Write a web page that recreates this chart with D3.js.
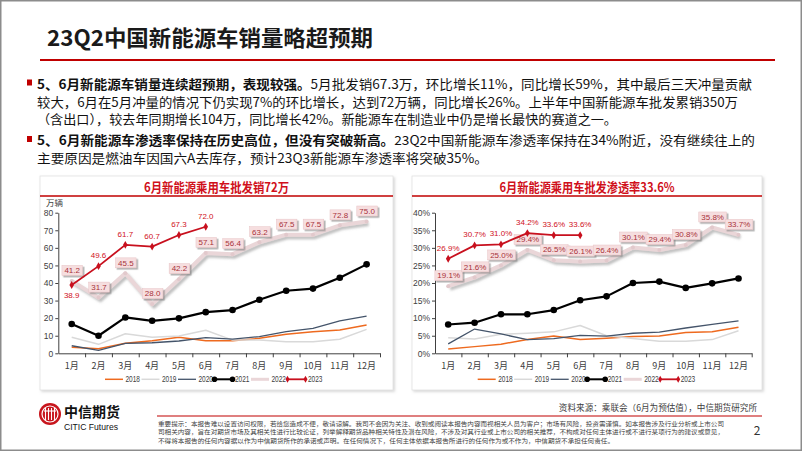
<!DOCTYPE html>
<html><head><meta charset="utf-8">
<script src="https://cdn.jsdelivr.net/npm/d3@7"></script>
<style>html,body{margin:0;padding:0;background:#fff;} svg{display:block;}</style>
</head><body><svg id="c" width="802" height="451"></svg>
<script>
// ---------- data ----------
const months = ['1月','2月','3月','4月','5月','6月','7月','8月','9月','10月','11月','12月'];
const years = ['2018','2019','2020','2021','2022','2023'];

// 新能源乘用车批发销量（万辆）
const sales2018 = [3.4, 2.6, 5.7, 7.2, 9.1, 7.2, 7.2, 8.5, 10.8, 12.3, 13.2, 16.1];
const sales2019 = [9.1, 5.1, 11.1, 9.1, 9.9, 13.1, 7.5, 7.5, 6.6, 6.6, 8.0, 13.6];
const sales2020 = [4.3, 1.7, 5.7, 6.0, 7.0, 8.9, 8.1, 9.5, 12.3, 14.2, 18.4, 21.2];
const sales2021 = [16.7, 10.0, 20.4, 18.5, 19.9, 23.4, 24.6, 30.5, 35.6, 36.8, 43.0, 50.6];
const sales2022 = [41.2, 31.7, 45.5, 28.0, 42.2, 57.1, 56.4, 63.2, 67.5, 67.5, 72.8, 75.0];
const sales2023 = [38.9, 49.6, 61.7, 60.7, 67.3, 72.0];
const salesTicks = [0, 10, 20, 30, 40, 50, 60, 70, 80];

// 新能源乘用车批发渗透率（%）
const pen2018 = [1.2, 1.9, 2.6, 3.9, 4.9, 3.9, 4.3, 4.8, 4.9, 5.9, 6.1, 7.4];
const pen2019 = [4.4, 4.1, 5.4, 5.7, 6.1, 7.9, 5.0, 4.2, 3.4, 3.4, 3.9, 6.4];
const pen2020 = [2.7, 6.9, 5.5, 3.9, 4.2, 5.1, 4.9, 5.7, 6.0, 7.2, 8.2, 9.2];
const pen2021 = [8.2, 8.7, 11.1, 11.1, 12.3, 15.1, 16.2, 20.0, 20.4, 18.6, 19.9, 21.3];
const pen2022 = [19.1, 21.6, 25.0, 29.4, 26.5, 26.1, 26.4, 30.1, 29.4, 30.8, 35.8, 33.7];
const pen2023 = [26.9, 30.7, 31.0, 34.2, 33.6, 33.6];
const penTicks = [0, 5, 10, 15, 20, 25, 30, 35, 40];

const pageTitle = '23Q2中国新能源车销量略超预期';
const chartTitleL = '6月新能源乘用车批发销72万';
const chartTitleR = '6月新能源乘用车批发渗透率33.6%';
const unitL = '万辆';
const bullets = [
  [['5、6月新能源车销量连续超预期，表现较强。', true], ['5月批发销67.3万，环比增长11%，同比增长59%，其中最后三天冲量贡献', false]],
  [['较大，6月在5月冲量的情况下仍实现7%的环比增长，达到72万辆，同比增长26%。上半年中国新能源车批发累销350万', false]],
  [['（含出口），较去年同期增长104万，同比增长42%。新能源车在制造业中仍是增长最快的赛道之一。', false]],
  [['5、6月新能源车渗透率保持在历史高位，但没有突破新高。', true], ['23Q2中国新能源车渗透率保持在34%附近，没有继续往上的', false]],
  [['主要原因是燃油车因国六A去库存，预计23Q3新能源车渗透率将突破35%。', false]]
];
const sourceText = '资料来源：乘联会（6月为预估值），中信期货研究所';
const disclaimer = [
  '重要提示：本报告难以设置访问权限，若给您造成不便，敬请谅解。我司不会因为关注、收到或阅读本报告内容而视相关人员为客户；市场有风险，投资需谨慎。如本报告涉及行业分析或上市公司',
  '司相关内容，旨在对期货市场及其相关性进行比较论证，列举解释期货品种相关特性及潜在风险，不涉及对其行业或上市公司的相关推荐，不构成对任何主体进行或不进行某项行为的建议或意见，',
  '不得将本报告的任何内容据以作为中信期货所作的承诺或声明。在任何情况下，任何主体依据本报告所进行的任何作为或不作为，中信期货不承担任何责任。'
];

// ---------- drawing ----------
const CJK = '"Noto Sans CJK SC", "Noto Sans", sans-serif';
const NUM = '"Liberation Sans", Arial, sans-serif';
const RED = '#C00000';
const svg = d3.select('#c');

const defs = svg.append('defs');
const sh = defs.append('filter').attr('id','sh').attr('x','-20%').attr('y','-20%').attr('width','150%').attr('height','160%');
sh.append('feDropShadow').attr('dx',2).attr('dy',2.5).attr('stdDeviation',1).attr('flood-color','#8a8a8a').attr('flood-opacity',0.55);
const shb = defs.append('filter').attr('id','shb').attr('x','-30%').attr('y','-40%').attr('width','170%').attr('height','190%');
shb.append('feDropShadow').attr('dx',1.6).attr('dy',1.6).attr('stdDeviation',0.7).attr('flood-color','#7a7a7a').attr('flood-opacity',0.6);
const shf = defs.append('filter').attr('id','shf').attr('x','-5%').attr('y','-5%').attr('width','110%').attr('height','110%');
shf.append('feDropShadow').attr('dx',1.5).attr('dy',1.5).attr('stdDeviation',1.2).attr('flood-color','#b0b0b0').attr('flood-opacity',0.5);

svg.append('rect').attr('width',802).attr('height',451).attr('fill','#fff');
svg.append('rect').attr('x',0.75).attr('y',0.75).attr('width',800.5).attr('height',449.5)
  .attr('fill','none').attr('stroke','#8c8c8c').attr('stroke-width',1.5);

// page title
svg.append('text').attr('x',47).attr('y',46).text(pageTitle)
  .attr('font-family',CJK).attr('font-size',22).attr('font-weight',700).attr('fill','#1a1a1a')
  .attr('textLength',326).attr('lengthAdjust','spacingAndGlyphs');
svg.append('line').attr('x1',40).attr('x2',775).attr('y1',60).attr('y2',60)
  .attr('stroke',RED).attr('stroke-width',2);

// bullets: each part its own text, fitted to measured line widths
const lineY = [88.5, 106.5, 124, 145, 162.5];
const lineW = [715, 701, 580, 718, null];
[0,3].forEach(i => {
  svg.append('rect').attr('x',27).attr('y',lineY[i]-9).attr('width',5).attr('height',6).attr('fill',RED);
});
let lastScale = 1.05;
bullets.forEach((parts, i) => {
  const nodes = parts.map(p => svg.append('text').attr('y',lineY[i]).text(p[0])
    .attr('font-family',CJK).attr('font-size',12.6).attr('fill','#111')
    .attr('font-weight', p[1] ? 700 : 400));
  const widths = nodes.map(n => n.node().getComputedTextLength());
  const total = d3.sum(widths);
  const scale = lineW[i] ? lineW[i] / total : lastScale;
  if (lineW[i]) lastScale = scale;
  let xx = 37;
  nodes.forEach((n, k) => {
    const w = widths[k] * scale;
    n.attr('x', xx).attr('textLength', w).attr('lengthAdjust','spacingAndGlyphs');
    xx += w;
  });
});

// chart panels
function panel(x0, x1, title, tw) {
  svg.append('rect').attr('x',x0).attr('y',176).attr('width',x1-x0).attr('height',214)
    .attr('fill','#fff').attr('stroke','#e2e2e2').attr('stroke-width',0.8).attr('filter','url(#shf)');
  svg.append('text').attr('x',(x0+x1)/2 - tw/2).attr('y',191.5).text(title)
    .attr('font-family',CJK).attr('font-size',12.8).attr('font-weight',700).attr('fill','#D0101B')
    .attr('textLength',tw).attr('lengthAdjust','spacingAndGlyphs');
  svg.append('line').attr('x1',x0).attr('x2',x1).attr('y1',196).attr('y2',196)
    .attr('stroke',RED).attr('stroke-width',1.3);
}
panel(40, 393, chartTitleL, 145);
panel(412, 762, chartTitleR, 175);

const styles = {
  '2018': {color:'#EE6A1F', width:1.5},
  '2019': {color:'#D9D9D9', width:1.5},
  '2020': {color:'#44546A', width:1.3},
  '2021': {color:'#000000', width:2.2},
  '2022': {color:'#EAD6D8', width:4},
  '2023': {color:'#C8101E', width:1.8}
};

function drawChart(opt) {
  const g = svg.append('g');
  const x = d3.scaleBand().domain(months).range([opt.x0, opt.x1]);
  const xb = d3.scaleLinear().domain([0, 12]).range([opt.x0, opt.x1]);
  const y = d3.scaleLinear().domain([0, opt.ymax]).range([353.3, 212.7]);
  const cx = i => x(months[i]) + x.bandwidth()/2;

  // y axis
  const ya = g.append('g').attr('transform',`translate(${opt.x0},0)`)
    .call(d3.axisLeft(y).tickValues(opt.ticks).tickSize(3).tickSizeOuter(0).tickPadding(2).tickFormat(opt.fmt));
  ya.select('.domain').attr('stroke','#404040');
  ya.selectAll('.tick line').attr('stroke','#404040');
  ya.selectAll('text').attr('font-family',NUM).attr('font-size',8.5).attr('fill','#404040');

  // x axis boundary ticks
  const xa = g.append('g').attr('transform','translate(0,353.3)')
    .call(d3.axisBottom(xb).tickValues(d3.range(1,13)).tickSize(4).tickSizeOuter(0).tickFormat(''));
  xa.select('.domain').attr('stroke','#404040');
  xa.selectAll('.tick line').attr('stroke','#404040');
  const xl = g.append('g').attr('transform','translate(0,353.3)')
    .call(d3.axisBottom(x).tickSize(0).tickPadding(9));
  xl.select('.domain').remove();
  xl.selectAll('text').attr('font-family',CJK).attr('font-size',9).attr('fill','#404040');

  const line = d3.line().x((d,i) => cx(i)).y(d => y(d));
  const draw = (yr, data) => g.append('path').datum(data).attr('d',line).attr('fill','none')
      .attr('stroke',styles[yr].color).attr('stroke-width',styles[yr].width).attr('stroke-linejoin','round');
  draw('2018', opt.data[0]);
  draw('2019', opt.data[1]);
  draw('2020', opt.data[2]);
  // 2022 with shadow
  draw('2022', opt.data[4]).attr('filter','url(#sh)');
  g.append('g').selectAll('circle').data(opt.data[4]).join('circle')
    .attr('cx',(d,i)=>cx(i)).attr('cy',d=>y(d)).attr('r',2).attr('fill','#E2C9CC');
  // 2021
  draw('2021', opt.data[3]);
  g.append('g').selectAll('circle').data(opt.data[3]).join('circle')
    .attr('cx',(d,i)=>cx(i)).attr('cy',d=>y(d)).attr('r',3.3).attr('fill','#000');
  // 2022 labels (boxes)
  const lb = g.append('g').selectAll('g').data(opt.data[4]).join('g')
    .attr('transform',(d,i)=>`translate(${cx(i)+0.5},${y(d)-10.5})`);
  const rects = lb.append('rect').attr('y',-5).attr('height',10)
    .attr('fill','#F6DEDF').attr('stroke','#E7C3C5').attr('stroke-width',0.5).attr('filter','url(#shb)');
  const texts = lb.append('text').attr('text-anchor','middle').attr('y',2.8).text(d => opt.fmtL(d))
    .attr('font-family',NUM).attr('font-size',8).attr('fill','#A8323A');
  texts.each(function(d, i) {
    const w = this.getComputedTextLength() + 5;
    d3.select(rects.nodes()[i]).attr('x', -w/2).attr('width', w);
  });
  // 2023
  draw('2023', opt.data[5]);
  g.append('g').selectAll('path').data(opt.data[5]).join('path')
    .attr('d', d3.symbol(d3.symbolDiamond, 18)())
    .attr('transform',(d,i)=>`translate(${cx(i)},${y(d)})`).attr('fill',styles['2023'].color);
  g.append('g').selectAll('text').data(opt.data[5]).join('text')
    .attr('x',(d,i)=>cx(i)).attr('y',(d,i)=> (opt.below && i===0) ? y(d)+13 : y(d)-8)
    .attr('text-anchor','middle').text(d => opt.fmtL(d))
    .attr('font-family',NUM).attr('font-size',8).attr('fill','#D0101B');

  // legend
  const lg = g.append('g').attr('transform',`translate(${opt.legendX},379.3)`);
  years.forEach((yr, k) => {
    const it = lg.append('g').attr('transform',`translate(${k*36.5},0)`);
    const s = styles[yr];
    it.append('line').attr('x1',0).attr('x2',18).attr('stroke',s.color)
      .attr('stroke-width', yr==='2022' ? 3 : Math.min(s.width,2));
    if (yr==='2021') {
      [0,18].forEach(px => it.append('circle').attr('cx',px).attr('r',2.8).attr('fill','#000'));
    }
    if (yr==='2023') {
      [0,18].forEach(px => it.append('path').attr('d',d3.symbol(d3.symbolDiamond,14)())
        .attr('transform',`translate(${px},0)`).attr('fill',s.color));
    }
    it.append('text').attr('x',20.5).attr('y',3).text(yr)
      .attr('font-family',NUM).attr('font-size',8.5).attr('fill','#404040')
      .attr('textLength',14.5).attr('lengthAdjust','spacingAndGlyphs');
  });
}

drawChart({x0:58.3, x1:380, ymax:80, ticks:salesTicks, fmt:d=>d, fmtL:d=>d.toFixed(1), below:true,
  data:[sales2018,sales2019,sales2020,sales2021,sales2022,sales2023], legendX:105});
drawChart({x0:435, x1:751.7, ymax:40, ticks:penTicks, fmt:d=>d+'%', fmtL:d=>d.toFixed(1)+'%', below:false,
  data:[pen2018,pen2019,pen2020,pen2021,pen2022,pen2023], legendX:477.7});

// unit label
svg.append('text').attr('x',46).attr('y',205.5).text(unitL)
  .attr('font-family',CJK).attr('font-size',8.5).attr('fill','#404040');

// footer
const logo = svg.append('g').attr('transform','translate(50,414)');
logo.append('circle').attr('r',11).attr('fill','#C8161D');
logo.append('circle').attr('r',8).attr('fill','none').attr('stroke','#fff').attr('stroke-width',1.2);
[-4.5,-1.5,1.5,4.5].forEach(xx => logo.append('line').attr('x1',xx).attr('x2',xx).attr('y1',-6).attr('y2',6)
  .attr('stroke','#fff').attr('stroke-width',1.1));
logo.append('line').attr('x1',-6).attr('x2',6).attr('y1',-3).attr('y2',-3).attr('stroke','#fff').attr('stroke-width',1.1);
svg.append('text').attr('x',64).attr('y',417).text('中信期货')
  .attr('font-family',CJK).attr('font-size',14).attr('font-weight',700).attr('fill','#111');
svg.append('text').attr('x',64).attr('y',429.5).text('CITIC Futures')
  .attr('font-family','"Liberation Sans", Arial, sans-serif').attr('font-size',8.6).attr('fill','#111');

svg.append('text').attr('x',757).attr('y',411).attr('text-anchor','end').text(sourceText)
  .attr('font-family',CJK).attr('font-size',8.6).attr('fill','#404040');
svg.append('line').attr('x1',157).attr('x2',762).attr('y1',416).attr('y2',416)
  .attr('stroke',RED).attr('stroke-width',1.1);
const dlen = [566, 566, 456];
disclaimer.forEach((t, i) => {
  svg.append('text').attr('x',158).attr('y',425.5 + i*8.6).text(t)
    .attr('font-family',CJK).attr('font-size',6).attr('fill','#404040')
    .attr('textLength',dlen[i]).attr('lengthAdjust','spacingAndGlyphs');
});
svg.append('text').attr('x',757).attr('y',435).attr('text-anchor','middle').text('2')
  .attr('font-family',CJK).attr('font-size',12).attr('fill','#333');
</script></body></html>
